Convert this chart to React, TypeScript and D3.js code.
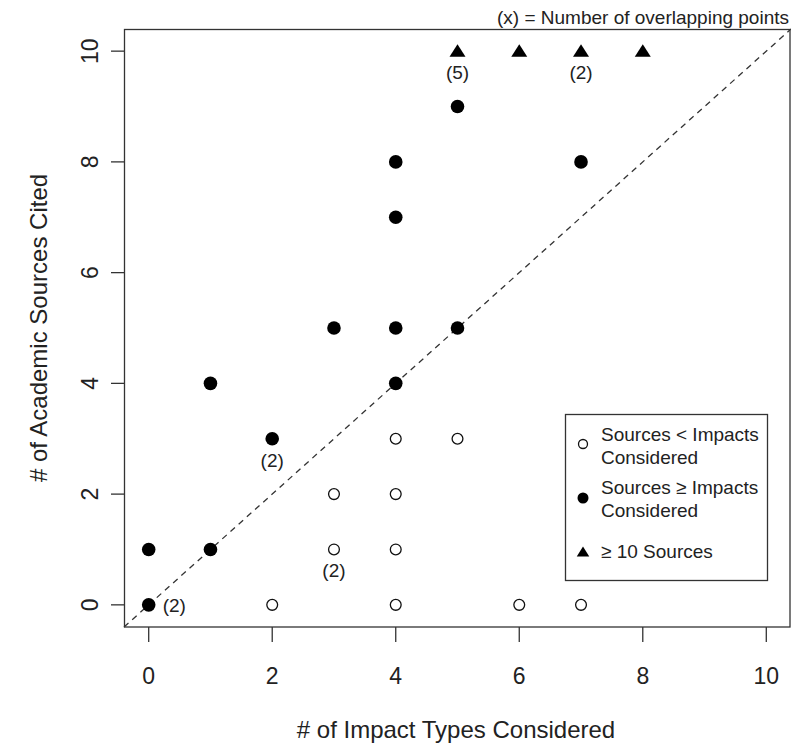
import React from 'react';
import * as d3 from 'd3';

// open circles: sources < impacts considered
const lessX = [2, 4, 6, 7, 3, 4, 3, 4, 4, 5];
const lessY = [0, 0, 0, 0, 1, 1, 2, 2, 3, 3];
// filled circles: sources >= impacts considered
const moreX = [0, 0, 1, 1, 2, 3, 4, 4, 4, 4, 5, 5, 7];
const moreY = [0, 1, 1, 4, 3, 5, 4, 5, 7, 8, 5, 9, 8];
// triangles: >= 10 sources
const topX = [5, 6, 7, 8];
const topY = [10, 10, 10, 10];
// overlap counts
const overlapX = [0, 2, 3, 5, 7];
const overlapY = [0, 3, 1, 10, 10];
const overlapN = [2, 2, 2, 5, 2];
const overlapPos = ['right', 'below', 'below', 'below', 'below'];

const ticks = [0, 2, 4, 6, 8, 10];

const W = 791;
const H = 744;
const FONT = '"Liberation Sans", Arial, sans-serif';

// triangle marker, a bit wider than tall like R's pch 17
const triangle = (w: number, h: number) => {
  const p = d3.path();
  p.moveTo(0, -h * 0.55);
  p.lineTo(w / 2, h * 0.45);
  p.lineTo(-w / 2, h * 0.45);
  p.closePath();
  return p.toString();
};

export default function App() {
  const x = d3.scaleLinear().domain([-0.4, 10.4]).range([124, 791]);
  const y = d3.scaleLinear().domain([-0.4, 10.4]).range([627, 29]);

  const tri = triangle(16, 12.5);

  const lessPts = lessX.map((v, i) => [v, lessY[i]]);
  const morePts = moreX.map((v, i) => [v, moreY[i]]);
  const topPts = topX.map((v, i) => [v, topY[i]]);

  return (
    <svg width={W} height={H} style={{ position: 'absolute', left: 0, top: 0, background: '#fff' }}
      fontFamily={FONT}>
      {/* diagonal */}
      <line x1={x(-0.4)} y1={y(-0.4)} x2={x(10.4)} y2={y(10.4)}
        stroke="#333" strokeWidth={1.3} strokeDasharray="6,5" />

      {/* plot box */}
      <rect x={124.5} y={29.5} width={665.5} height={597.5} fill="none" stroke="#333" strokeWidth={1.3} />

      {/* x axis */}
      {ticks.map(t => (
        <g key={'x' + t}>
          <line x1={x(t)} x2={x(t)} y1={627} y2={642} stroke="#333" strokeWidth={1.3} />
          <text x={x(t)} y={684} textAnchor="middle" fontSize={23} fill="#222">{t}</text>
        </g>
      ))}
      <text x={456} y={738} textAnchor="middle" fontSize={24} fill="#222"># of Impact Types Considered</text>

      {/* y axis */}
      {ticks.map(t => (
        <g key={'y' + t}>
          <line x1={111} x2={124} y1={y(t)} y2={y(t)} stroke="#333" strokeWidth={1.3} />
          <text transform={`translate(98,${y(t)}) rotate(-90)`} textAnchor="middle" fontSize={23} fill="#222">{t}</text>
        </g>
      ))}
      <text transform={`translate(47,328) rotate(-90)`} textAnchor="middle" fontSize={24} fill="#222"># of Academic Sources Cited</text>

      {/* points */}
      {lessPts.map((p, i) => (
        <circle key={'l' + i} cx={x(p[0])} cy={y(p[1])} r={5.4} fill="#fff" stroke="#111" strokeWidth={1.3} />
      ))}
      {morePts.map((p, i) => (
        <circle key={'m' + i} cx={x(p[0])} cy={y(p[1])} r={6.8} fill="#000" />
      ))}
      {topPts.map((p, i) => (
        <path key={'t' + i} d={tri} transform={`translate(${x(p[0])},${y(p[1])})`} fill="#000" />
      ))}

      {/* overlap labels */}
      {overlapX.map((v, i) => {
        const right = overlapPos[i] === 'right';
        return (
          <text key={'o' + i}
            x={right ? x(v) + 14 : x(v)}
            y={right ? y(overlapY[i]) + 7 : y(overlapY[i]) + 28}
            textAnchor={right ? 'start' : 'middle'} fontSize={19} fill="#222">
            ({overlapN[i]})
          </text>
        );
      })}

      <text x={789} y={24} textAnchor="end" fontSize={19} fill="#222">(x) = Number of overlapping points</text>

      {/* legend */}
      <rect x={565.5} y={414.5} width={202} height={166} fill="#fff" stroke="#333" strokeWidth={1.3} />
      <circle cx={583} cy={444} r={4.5} fill="#fff" stroke="#111" strokeWidth={1.3} />
      <text x={601} y={441} fontSize={19} fill="#222">Sources &lt; Impacts</text>
      <text x={601} y={464} fontSize={19} fill="#222">Considered</text>
      <circle cx={583} cy={498} r={5.5} fill="#000" />
      <text x={601} y={494} fontSize={19} fill="#222">Sources ≥ Impacts</text>
      <text x={601} y={517} fontSize={19} fill="#222">Considered</text>
      <path d={triangle(12.5, 10)} transform="translate(583,552)" fill="#000" />
      <text x={601} y={558} fontSize={19} fill="#222">≥ 10 Sources</text>
    </svg>
  );
}
